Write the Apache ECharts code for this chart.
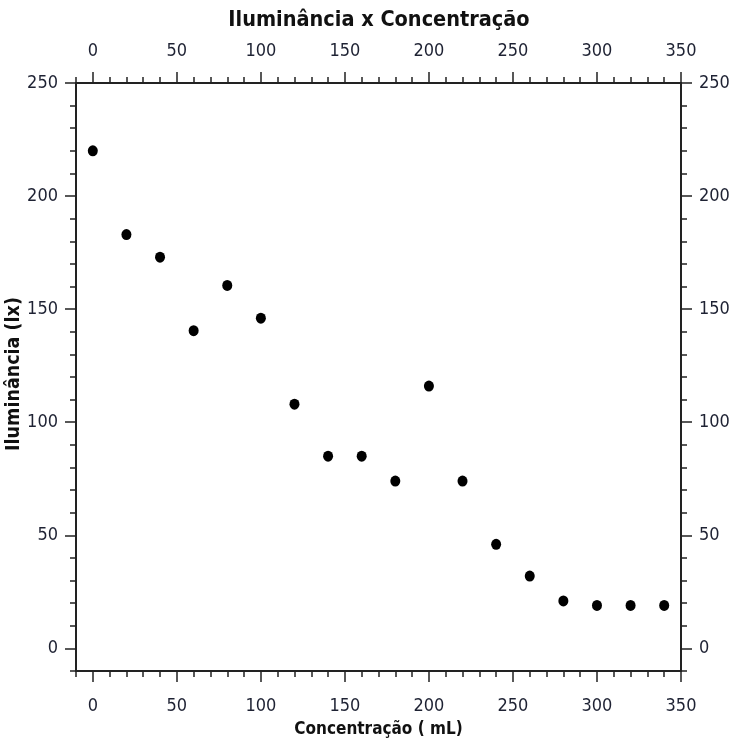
<!DOCTYPE html>
<html>
<head>
<meta charset="utf-8">
<script src="https://cdn.jsdelivr.net/npm/echarts@6/dist/echarts.min.js"></script>
<style>html,body{margin:0;padding:0;background:#fff}#c{width:732px;height:742px}</style>
</head>
<body>
<div id="c"></div>
<script>
const concentration = [0, 20, 40, 60, 80, 100, 120, 140, 160, 180, 200, 220, 240, 260, 280, 300, 320, 340];
const illuminance = [220, 183, 173, 140.5, 160.5, 146, 108, 85, 85, 74, 116, 74, 46, 32, 21, 19, 19, 19];
const xMajorTicks = [0, 50, 100, 150, 200, 250, 300, 350];
const yMajorTicks = [0, 50, 100, 150, 200, 250];
const titleText = 'Iluminância x Concentração';
const xName = 'Concentração ( mL)';
const yName = 'Iluminância (lx)';

const labelFont = "'Liberation Sans Narrow','DejaVu Sans Condensed',sans-serif";
const boldFont = "'DejaVu Sans Condensed','DejaVu Sans',sans-serif";
const lineC = '#222';
const txtC = '#1e2233';

function valAxis(kind, pos, major, extra) {
  const isX = kind === 'x';
  const base = {
    type: 'value', position: pos,
    min: -10, max: isX ? 350 : 250, interval: 10,
    splitLine: {show: false},
    axisLine: {show: true, onZero: false, lineStyle: {color: lineC, width: 2}},
    axisTick: {show: true, inside: false, length: 6, lineStyle: {color: lineC, width: 1.5}},
    axisLabel: {show: true, color: txtC, fontFamily: labelFont, fontSize: 18,
      margin: isX ? (pos === 'bottom' ? 26 : 23) : 18,
      showMinLabel: true, showMaxLabel: true,
      formatter: v => (v % 50 === 0 ? String(v) : '')}
  };
  const over = {
    type: 'value', position: pos,
    min: -10, max: isX ? 350 : 250,
    splitLine: {show: false},
    axisLine: {show: false, onZero: false},
    axisTick: {show: true, inside: false, length: 11, customValues: major, lineStyle: {color: lineC, width: 1.5}},
    axisLabel: {show: false}
  };
  return [Object.assign(base, extra || {}), over];
}

const xa = [
  ...valAxis('x', 'bottom', xMajorTicks, {
    name: xName, nameLocation: 'middle', nameGap: 50, nameMoveOverlap: false,
    nameTextStyle: {fontFamily: boldFont, fontWeight: 'bold', fontSize: 17, color: '#111'}
  }),
  ...valAxis('x', 'top', xMajorTicks)
];
const ya = [
  ...valAxis('y', 'left', yMajorTicks, {
    name: yName, nameLocation: 'middle', nameGap: 52, nameRotate: 90, nameMoveOverlap: false,
    nameTextStyle: {fontFamily: boldFont, fontWeight: 'bold', fontSize: 19.5, color: '#111', padding: [0, 0, 0, 6]}
  }),
  ...valAxis('y', 'right', yMajorTicks)
];

const chart = echarts.init(document.getElementById('c'), null, {renderer: 'canvas'});
chart.setOption({
  animation: false,
  backgroundColor: '#fff',
  title: {
    text: titleText, left: 374, top: 4, textAlign: 'center',
    textStyle: {fontFamily: boldFont, fontWeight: 'bold', fontSize: 21.5, color: '#111'}
  },
  grid: {left: 76, right: 51, top: 83, bottom: 71, containLabel: false, outerBoundsMode: 'none'},
  xAxis: xa,
  yAxis: ya,
  series: [{
    type: 'scatter',
    xAxisIndex: 0, yAxisIndex: 0,
    symbol: 'circle', symbolSize: [10, 11],
    itemStyle: {color: '#000', opacity: 1},
    data: concentration.map((c, i) => [c, illuminance[i]])
  }]
});
</script>
</body>
</html>
